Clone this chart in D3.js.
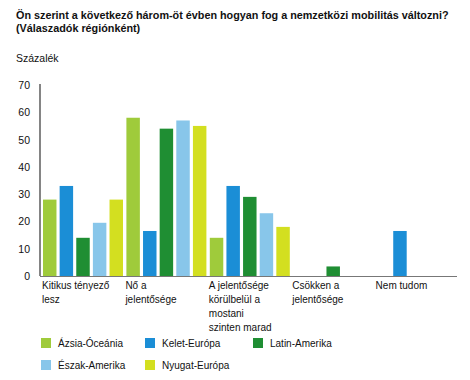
<!DOCTYPE html>
<html>
<head>
<meta charset="utf-8">
<script src="https://cdn.jsdelivr.net/npm/d3@7"></script>
<style>
  body { margin: 0; background: #fff; }
  svg { font-family: "Liberation Sans", Arial, sans-serif; }
</style>
</head>
<body>
<div id="chart"></div>
<script>
// data
var categories = [
  ["Kitikus tényező", "lesz"],
  ["Nő a", "jelentősége"],
  ["A jelentősége", "körülbelül a", "mostani", "szinten marad"],
  ["Csökken a", "jelentősége"],
  ["Nem tudom"]
];
var seriesNames = ["Ázsia-Óceánia", "Kelet-Európa", "Latin-Amerika", "Észak-Amerika", "Nyugat-Európa"];
var seriesColors = ["#9fcb3b", "#1b8ed6", "#1f8e33", "#88c6ea", "#d3df20"];
var asiaOceania = [28, 58, 14, 0, 0];
var easternEurope = [33, 16.5, 33, 0, 16.5];
var latinAmerica = [14, 54, 29, 3.5, 0];
var northAmerica = [19.5, 57, 23, 0, 0];
var westernEurope = [28, 55, 18, 0, 0];
var yTicks = [0, 10, 20, 30, 40, 50, 60, 70];

var series = [asiaOceania, easternEurope, latinAmerica, northAmerica, westernEurope];

var width = 470, height = 380;
var svg = d3.select("#chart").append("svg")
  .attr("width", width)
  .attr("height", height);

// title
svg.append("text").attr("x", 16).attr("y", 19)
  .attr("font-size", "10.8px").attr("font-weight", "bold").attr("fill", "#111")
  .text("Ön szerint a következő három-öt évben hogyan fog a nemzetközi mobilitás változni?");
svg.append("text").attr("x", 16).attr("y", 32)
  .attr("font-size", "10.8px").attr("font-weight", "bold").attr("fill", "#111")
  .text("(Válaszadók régiónként)");
svg.append("text").attr("x", 16).attr("y", 62)
  .attr("font-size", "10.5px").attr("fill", "#111")
  .text("Százalék");

var plotLeft = 40, plotRight = 457, plotTop = 85, plotBottom = 276;

var x0 = d3.scaleBand()
  .domain(d3.range(categories.length))
  .range([plotLeft, plotRight])
  .paddingInner(0)
  .paddingOuter(0);

var x1 = d3.scaleBand()
  .domain(d3.range(seriesNames.length))
  .range([3, 83])
  .paddingInner(0.19)
  .paddingOuter(0);

var y = d3.scaleLinear().domain([0, 70]).range([plotBottom, plotTop]);

// y tick labels
svg.selectAll(".ytick")
  .data(yTicks)
  .enter()
  .append("text")
    .attr("x", 30)
    .attr("y", function(d) { return y(d) + 4; })
    .attr("text-anchor", "end")
    .attr("font-size", "10.5px")
    .attr("fill", "#111")
    .text(function(d) { return d; });

// bars
var groups = svg.selectAll(".grp")
  .data(categories)
  .enter()
  .append("g")
    .attr("transform", function(d, i) { return "translate(" + x0(i) + ",0)"; });

groups.selectAll("rect")
  .data(function(d, i) {
    return series.map(function(s, k) { return {k: k, v: s[i]}; }).filter(function(d) { return d.v > 0; });
  })
  .enter()
  .append("rect")
    .attr("x", function(d) { return x1(d.k); })
    .attr("y", function(d) { return y(d.v); })
    .attr("width", x1.bandwidth())
    .attr("height", function(d) { return y(0) - y(d.v); })
    .attr("fill", function(d) { return seriesColors[d.k]; });

// axes lines
svg.append("line")
  .attr("x1", plotLeft).attr("x2", plotLeft)
  .attr("y1", plotTop - 1).attr("y2", plotBottom)
  .attr("stroke", "#333").attr("stroke-width", 1.2);
svg.append("line")
  .attr("x1", plotLeft).attr("x2", plotRight)
  .attr("y1", plotBottom + 0.5).attr("y2", plotBottom + 0.5)
  .attr("stroke", "#777").attr("stroke-width", 1.2);

// category labels
var labels = svg.selectAll(".cat")
  .data(categories)
  .enter()
  .append("text")
    .attr("x", function(d, i) { return x0(i) + 2; })
    .attr("y", 289)
    .attr("font-size", "10px")
    .attr("fill", "#111");
labels.selectAll("tspan")
  .data(function(d) { return d; })
  .enter()
  .append("tspan")
    .attr("x", function() { return d3.select(this.parentNode).attr("x"); })
    .attr("dy", function(d, i) { return i === 0 ? 0 : 14; })
    .text(function(d) { return d; });

// legend
var legendX = [41, 145, 253];
var legend = svg.selectAll(".leg")
  .data(seriesNames)
  .enter()
  .append("g")
    .attr("transform", function(d, i) {
      return "translate(" + legendX[i % 3] + "," + (338 + Math.floor(i / 3) * 22) + ")";
    });
legend.append("rect")
  .attr("width", 10).attr("height", 10)
  .attr("fill", function(d, i) { return seriesColors[i]; });
legend.append("text")
  .attr("x", 17).attr("y", 9)
  .attr("font-size", "10px")
  .attr("fill", "#111")
  .text(function(d) { return d; });
</script>
</body>
</html>
